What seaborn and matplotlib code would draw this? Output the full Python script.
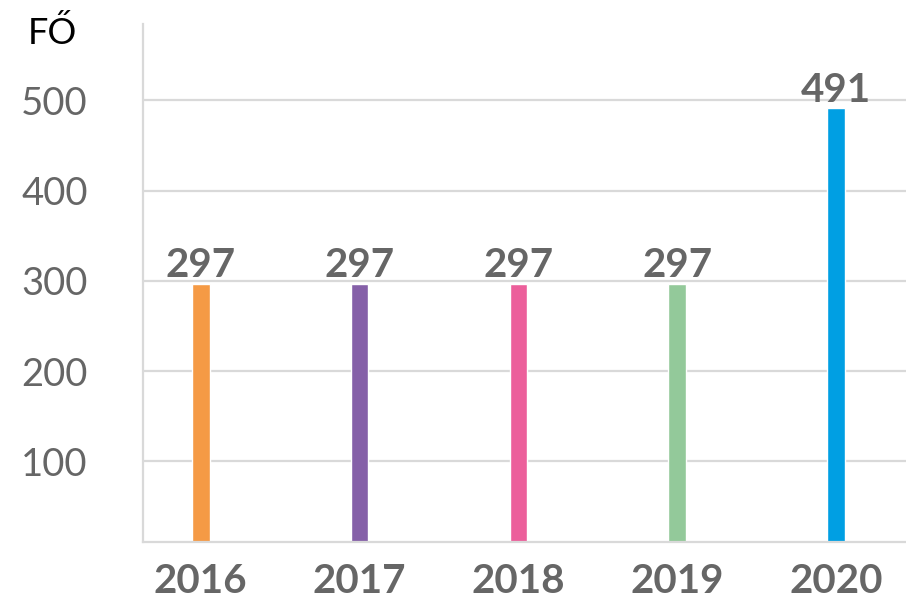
import pandas as pd
import seaborn as sns
import matplotlib.pyplot as plt

# data
years = ["2016", "2017", "2018", "2019", "2020"]
values = [297, 297, 297, 297, 491]
colors = ["#F59A45", "#8560A8", "#EC5F9B", "#93C99A", "#009FE3"]
yticks = [100, 200, 300, 400, 500]

df = pd.DataFrame({"year": years, "fo": values})

sns.set_style("white")
plt.rcParams["font.family"] = ["Lato", "DejaVu Sans"]

fig = plt.figure(figsize=(9.06, 6.06), dpi=100)
ax = fig.add_axes([0.158, 0.106, 0.842, 0.855])

sns.barplot(data=df, x="year", y="fo", hue="year", palette=colors,
            width=0.11, legend=False, ax=ax, saturation=1)

# value labels on top of bars
for i, v in enumerate(values):
    ax.annotate(str(v), (i, v), xytext=(0, 5), textcoords="offset points",
                ha="center", va="baseline", fontsize=29, fontweight="bold",
                color="#666666")

ax.set_ylim(11, 585)
ax.set_xlim(-0.363, 4.442)
ax.set_yticks(yticks)
ax.yaxis.grid(True, color="#D9D9D9", linewidth=1.6)
ax.set_axisbelow(True)

ax.set_xlabel("")
ax.set_ylabel("")
ax.tick_params(axis="y", length=0, pad=40, labelsize=27.5, labelcolor="#666666")
ax.tick_params(axis="x", length=0, pad=15, labelsize=29, labelcolor="#666666")
for lbl in ax.get_xticklabels():
    lbl.set_fontweight("bold")

sns.despine(ax=ax, top=True, right=True)
for s in ["left", "bottom"]:
    ax.spines[s].set_color("#D9D9D9")
    ax.spines[s].set_linewidth(1.6)

fig.text(0.058, 0.945, "FŐ", fontsize=26, color="black", ha="center", va="center")

fig.savefig("out.png", dpi=100)
